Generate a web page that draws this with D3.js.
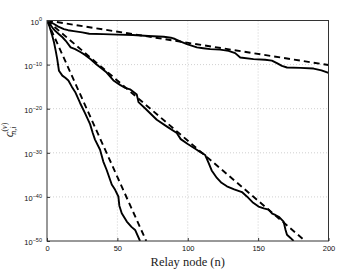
<!DOCTYPE html>
<html>
<head>
<meta charset="utf-8">
<script src="https://cdn.jsdelivr.net/npm/d3@7"></script>
<style>
  body { margin: 0; background: #fff; }
  svg { display: block; }
  .tick text { font-family: "Liberation Sans", Arial, sans-serif; }
</style>
</head>
<body>
<div id="chart"></div>
<script>
// relay node index and log10(c)
const sim1N = [0, 2, 5, 8, 12, 15, 19, 25, 30, 40, 50, 61, 72, 83, 88, 91, 95, 99.4, 106.5, 111, 116, 123, 129, 133.7, 137.3, 146.7, 155, 159.8, 163, 166.9, 170.5, 180, 189.4, 195, 200];
const sim1E = [0, -0.3, -0.8, -1.4, -1.95, -2.2, -2.4, -2.7, -3.0, -3.1, -3.2, -3.3, -3.5, -3.7, -3.9, -4.2, -4.8, -5.35, -6.1, -6.3, -6.5, -6.6, -6.9, -7.4, -8.4, -8.75, -8.9, -9.1, -9.6, -10.3, -10.65, -10.75, -10.9, -11.3, -11.9];

const sim2N = [0, 2, 3.8, 6, 8.5, 11, 13.3, 16.8, 20, 24, 27, 31, 35, 39.3, 42.4, 47.2, 51.9, 55, 59, 63.8, 65, 70, 78, 85, 92.2, 95, 100, 106.4, 108.7, 112.4, 114.8, 117, 120.7, 124, 127.8, 133, 138.5, 142, 146, 150.3, 154, 157.4, 160, 162.2, 165, 168.1, 169.5, 170.5, 173, 175.2];
const sim2E = [0, -0.8, -1.6, -2.4, -3.1, -3.8, -4.6, -6.1, -6.5, -7.2, -7.8, -8.8, -9.9, -11, -11.8, -13.6, -14.6, -15.2, -15.6, -16.8, -18.5, -20, -22.5, -24, -25.5, -26.9, -28, -29.3, -29.8, -30.5, -32.3, -34, -35.7, -36.8, -37.6, -38.3, -38.9, -39.9, -41.2, -42.2, -42.6, -42.9, -43.8, -44.1, -44.6, -45.6, -47.5, -48.6, -49.3, -50];

const sim3N = [0, 1.5, 3.5, 5, 6.2, 7.3, 8.5, 10.9, 13, 15.2, 17.6, 20, 23.5, 24.7, 27, 30.6, 32.5, 34.1, 37.7, 40, 42.4, 46, 48.4, 50.7, 51.4, 53.1, 56.7, 60, 62.6, 66.1];
const sim3E = [0, -1, -3.2, -5, -6.9, -8.8, -11.4, -12.5, -13, -13.6, -15, -16.2, -18.7, -19.5, -21, -23.5, -25.5, -27, -29.3, -32, -33.9, -37.2, -38.4, -39.9, -42, -43.7, -45.6, -46.8, -47.5, -50];

// analytic approximations (dashed)
const ana1N = [0, 200];
const ana1E = [0, -10.1];
const ana2N = [0, 183.5];
const ana2E = [0, -50];
const ana3N = [0, 70.5];
const ana3E = [0, -50];

const xTicks = [0, 50, 100, 150, 200];
const yTickExp = [0, -10, -20, -30, -40, -50];

const W = 362, H = 272;
const pLeft = 47, pRight = 328.5, pTop = 20.5, pBottom = 241;

const svg = d3.select("#chart").append("svg")
    .attr("width", W)
    .attr("height", H);

const x = d3.scaleLinear().domain([0, 200]).range([pLeft, pRight]);
const y = d3.scaleLog().domain([1e-50, 1]).range([pBottom, pTop]);

// grid
const grid = svg.append("g").attr("stroke", "#c4c4c4").attr("stroke-width", 0.8).attr("stroke-dasharray", "1,2");
grid.selectAll("line.gx").data(xTicks.slice(1, -1)).enter().append("line")
    .attr("x1", d => x(d)).attr("x2", d => x(d))
    .attr("y1", pTop).attr("y2", pBottom);
grid.selectAll("line.gy").data(yTickExp.slice(1, -1)).enter().append("line")
    .attr("x1", pLeft).attr("x2", pRight)
    .attr("y1", d => y(Math.pow(10, d))).attr("y2", d => y(Math.pow(10, d)));

// curves
svg.append("clipPath").attr("id", "clip").append("rect")
    .attr("x", pLeft).attr("y", pTop).attr("width", pRight - pLeft).attr("height", pBottom - pTop);

const line = d3.line().x(d => x(d[0])).y(d => y(Math.pow(10, d[1])));
const series = [
    [sim1N, sim1E, false], [sim2N, sim2E, false], [sim3N, sim3E, false],
    [ana1N, ana1E, true], [ana2N, ana2E, true], [ana3N, ana3E, true]
];
const curves = svg.append("g").attr("clip-path", "url(#clip)");
series.forEach(function(s) {
    const pts = s[0].map((n, i) => [n, s[1][i]]);
    curves.append("path")
        .attr("d", line(pts))
        .attr("fill", "none")
        .attr("stroke", "#000")
        .attr("stroke-width", 1.9)
        .attr("stroke-linejoin", "round")
        .attr("stroke-dasharray", s[2] ? "6,4" : null);
});

// axes
const xAxis = d3.axisBottom(x).tickValues(xTicks).tickSizeInner(-3).tickSizeOuter(0).tickPadding(5);
const gx = svg.append("g").attr("transform", `translate(0,${pBottom})`).call(xAxis);
gx.selectAll("text").attr("font-size", 7.5).attr("fill", "#111");

const yAxis = d3.axisLeft(y).tickValues(yTickExp.map(e => Math.pow(10, e)))
    .tickSizeInner(-3).tickSizeOuter(0).tickPadding(5).tickFormat("");
const gy = svg.append("g").attr("transform", `translate(${pLeft},0)`).call(yAxis);
gy.selectAll(".tick").each(function(d, i) {
    const t = d3.select(this).select("text").attr("font-size", 7.5).attr("fill", "#111").attr("dy", "0.5em");
    t.append("tspan").text("10");
    t.append("tspan").attr("font-size", 5.5).attr("dy", "-0.6em").text(yTickExp[i] === 0 ? "0" : "\u2212" + Math.abs(yTickExp[i]));
});
svg.selectAll(".domain").remove();
svg.selectAll(".tick line").attr("stroke", "#333");

svg.append("rect")
    .attr("x", pLeft).attr("y", pTop)
    .attr("width", pRight - pLeft).attr("height", pBottom - pTop)
    .attr("fill", "none").attr("stroke", "#333").attr("stroke-width", 1);

// labels
svg.append("text")
    .attr("x", (pLeft + pRight) / 2).attr("y", 266)
    .attr("text-anchor", "middle")
    .attr("font-family", "'Liberation Serif', 'DejaVu Serif', serif")
    .attr("font-size", 12.5)
    .attr("fill", "#222")
    .text("Relay node (n)");

const yl = svg.append("text")
    .attr("transform", "translate(13,130) rotate(-90)")
    .attr("text-anchor", "middle")
    .attr("font-family", "'Liberation Serif', 'DejaVu Serif', serif")
    .attr("fill", "#222");
yl.append("tspan").attr("font-size", 13).attr("font-style", "italic").text("c");
yl.append("tspan").attr("font-size", 8).attr("dy", -6).text("(");
yl.append("tspan").attr("font-size", 8).attr("font-style", "italic").text("v");
yl.append("tspan").attr("font-size", 8).text(")");
yl.append("tspan").attr("font-size", 8).attr("font-style", "italic").attr("dx", -12).attr("dy", 9).text("n,i");
</script>
</body>
</html>
